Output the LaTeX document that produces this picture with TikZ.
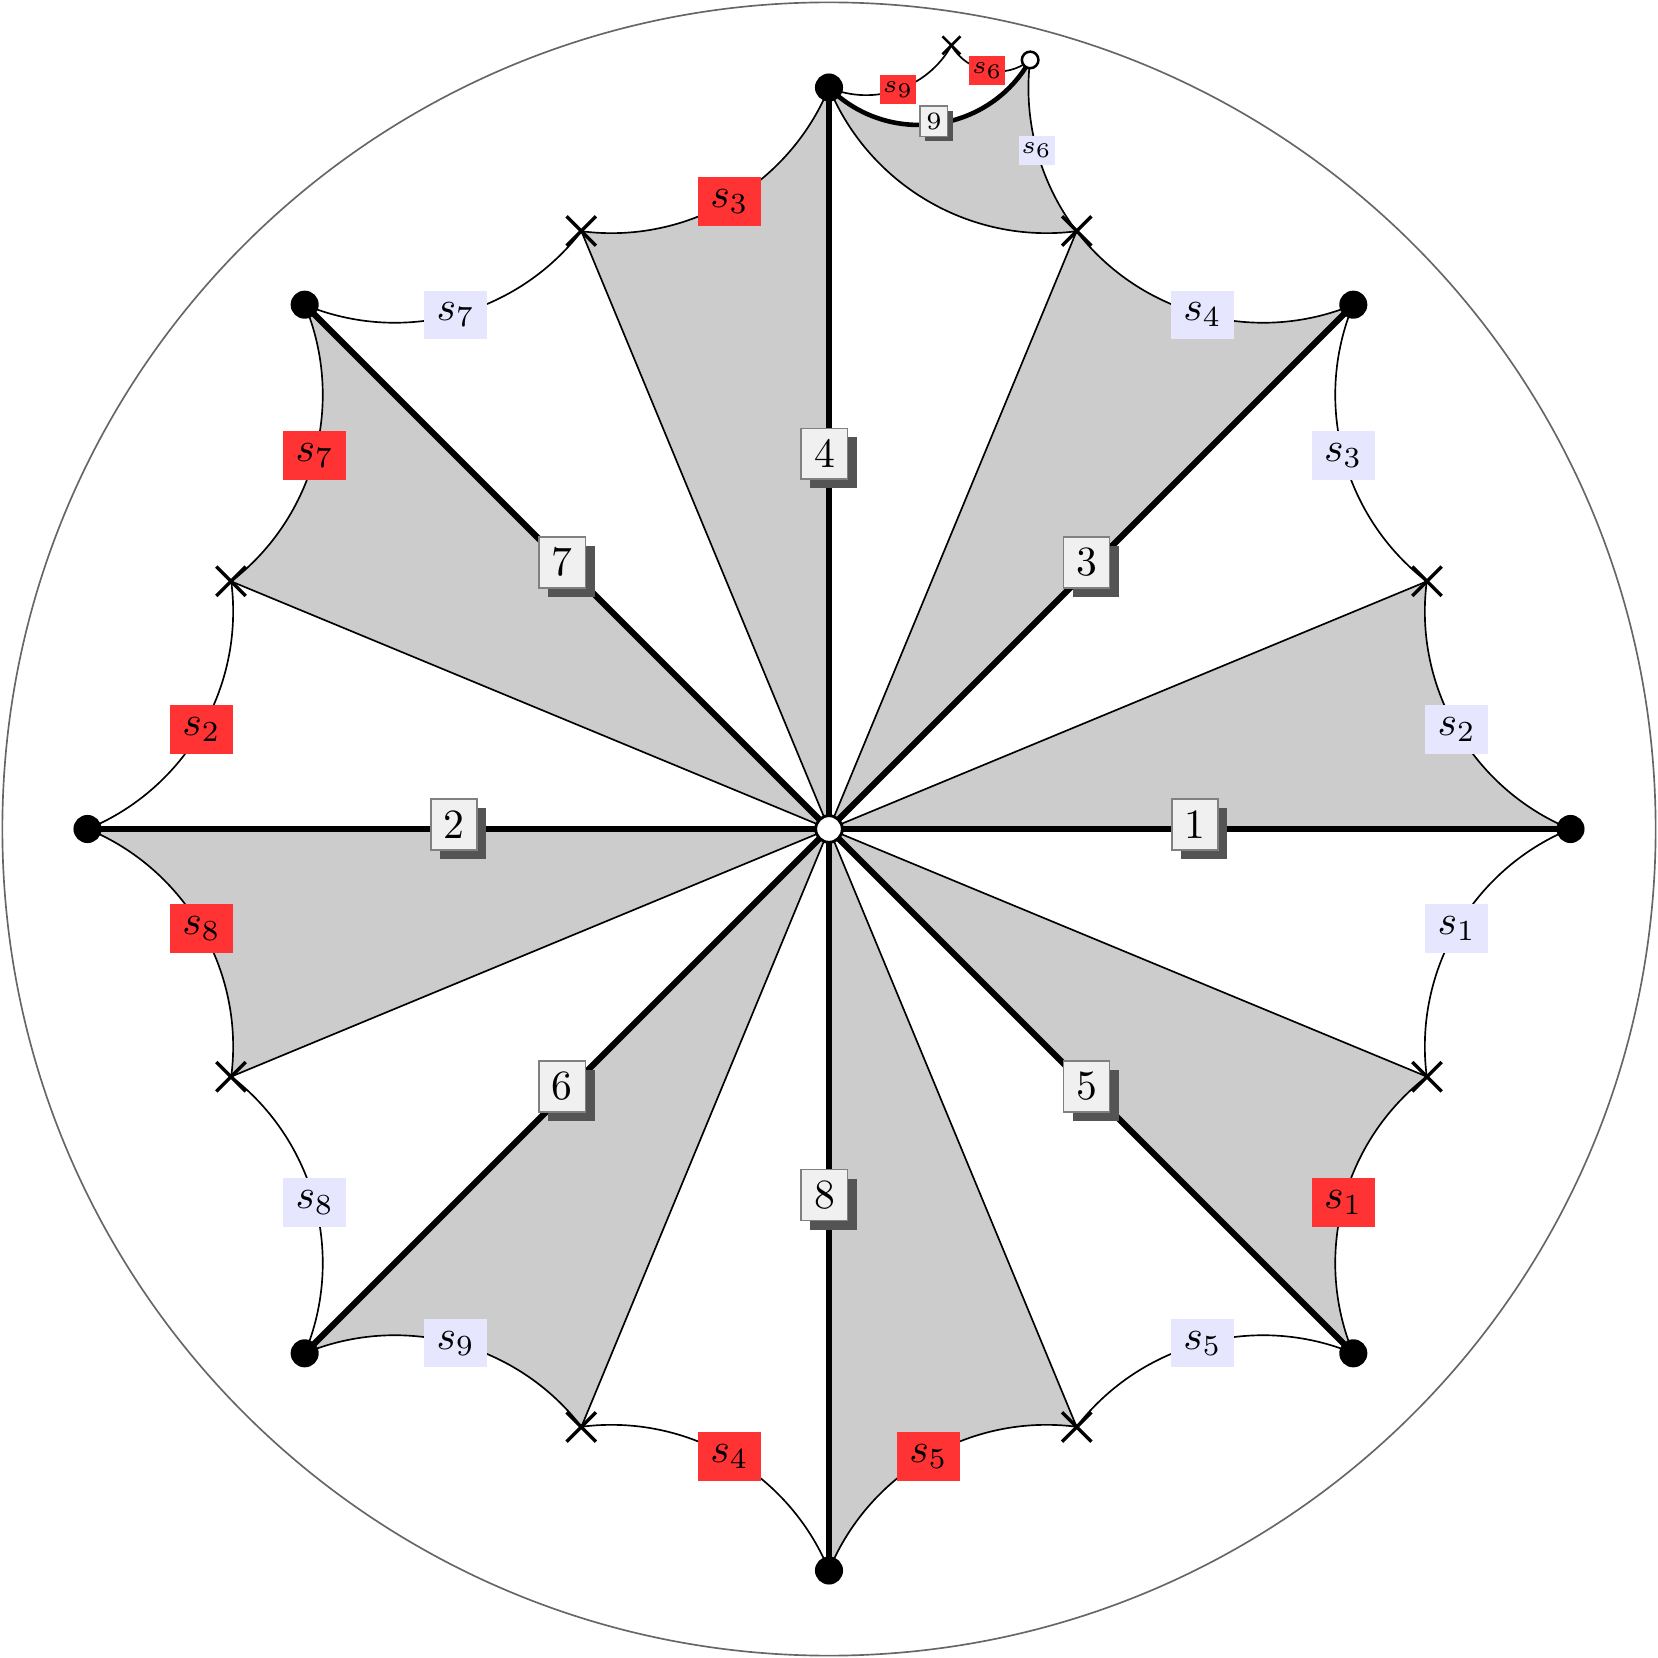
\documentclass[tikz,border=0pt]{standalone}
\usepackage{amsmath,amssymb}
\usepackage{xcolor}
\usepackage{tikz}
\usetikzlibrary{positioning,backgrounds,shadows,shapes.misc}

\definecolor{sred}{RGB}{255,51,51}
\definecolor{sblue}{RGB}{230,230,255}
\definecolor{boxgray}{gray}{0.94}
\definecolor{wedgegray}{gray}{0.8}

\tikzset{
  vertex/.style={circle,fill=black,inner sep=0pt,minimum size=0.237cm},
  hole/.style={circle,draw=black,fill=white,line width=0.7pt,inner sep=0pt,minimum size=0.225cm},
  xmark/.style={cross out,draw=black,line width=0.8pt,inner sep=0pt,minimum size=0.22cm},
  edge/.style={line width=1.45pt},
  side/.style={line width=0.4pt},
  numbase/.style={draw=gray,line width=0.4pt,fill=boxgray,inner sep=0pt},
  numbox/.style={numbase,minimum width=0.39cm,minimum height=0.43cm,xshift=-1.1pt,yshift=1.1pt,
    drop shadow={shadow xshift=2.2pt,shadow yshift=-2.2pt,fill=black!67,opacity=1}},
  numboxsmall/.style={numbase,font=\fontsize{6}{7}\selectfont,minimum width=0.23cm,minimum height=0.255cm,
    xshift=-0.6pt,yshift=0.6pt,
    drop shadow={shadow xshift=1.2pt,shadow yshift=-1.2pt,fill=black!67,opacity=1}},
  redlab/.style={fill=sred,inner sep=0pt,minimum width=0.53cm,minimum height=0.41cm},
  bluelab/.style={fill=sblue,inner sep=0pt,minimum width=0.53cm,minimum height=0.41cm},
  tinylab/.style={font=\fontsize{6}{7}\selectfont,minimum width=0.305cm,minimum height=0.245cm},
}

\begin{document}
\begin{tikzpicture}[scale=6.98]
  \useasboundingbox (-1.00287,-1.00287) rectangle (1.00287,1.00287);
  \draw[line width=0.4pt,black!60] (0,0) circle (1);

  % vertices of the tiling
  \node[hole] (o) at (0,0) {};
  \foreach \k in {0,...,7}{
    \node[vertex] (d\k) at (45*\k:0.897) {};
    \node[xmark] (x\k) at (45*\k+22.5:0.783) {};
  }
  \node[hole,minimum size=0.14cm,line width=0.6pt] (p) at (75.34:0.9617) {};
  \node[xmark,minimum size=0.13cm,line width=0.6pt] (y) at (81.12:0.9596) {};

  \begin{scope}[on background layer]
    % shaded triangles
    \foreach \k [evaluate=\k as \ao using 45*\k+157.5,
                 evaluate=\k as \ai using 45*\k+262.65] in {0,...,7}
      \fill[wedgegray] (o.center) -- (d\k.center)
        to[out=\ao,in=\ai,looseness=0.95] (x\k.center) -- cycle;
    \fill[wedgegray] (d2.center) to[out=315.04,in=240.67,looseness=1.06] (p.center)
      to[out=263.17,in=127.19,looseness=0.88] (x1.center)
      to[out=187.35,in=292.5,looseness=0.95] (d2.center);

    \foreach \k in {0,...,7}
      \draw[side] (o.center) -- (x\k.center);

    % geodesic sides
    \draw[side] (d0.center) to[out=157.5,in=262.65,looseness=0.95] node[bluelab,midway] {$s_2$} (x0.center);
    \draw[side] (d1.center) to[out=247.5,in=142.35,looseness=0.95] node[bluelab,midway] {$s_3$} (x0.center);
    \draw[side] (d1.center) to[out=202.5,in=307.65,looseness=0.95] node[bluelab,midway] {$s_4$} (x1.center);
    \draw[side] (d2.center) to[out=292.5,in=187.35,looseness=0.95] (x1.center);
    \draw[side] (d2.center) to[out=247.5,in=352.65,looseness=0.95] node[redlab,midway] {$s_3$} (x2.center);
    \draw[side] (d3.center) to[out=337.5,in=232.35,looseness=0.95] node[bluelab,midway] {$s_7$} (x2.center);
    \draw[side] (d3.center) to[out=292.5,in=37.65,looseness=0.95] node[redlab,midway] {$s_7$} (x3.center);
    \draw[side] (d4.center) to[out=22.5,in=277.35,looseness=0.95] node[redlab,midway] {$s_2$} (x3.center);
    \draw[side] (d4.center) to[out=337.5,in=82.65,looseness=0.95] node[redlab,midway] {$s_8$} (x4.center);
    \draw[side] (d5.center) to[out=67.5,in=322.35,looseness=0.95] node[bluelab,midway] {$s_8$} (x4.center);
    \draw[side] (d5.center) to[out=22.5,in=127.65,looseness=0.95] node[bluelab,midway] {$s_9$} (x5.center);
    \draw[side] (d6.center) to[out=112.5,in=7.35,looseness=0.95] node[redlab,midway] {$s_4$} (x5.center);
    \draw[side] (d6.center) to[out=67.5,in=172.65,looseness=0.95] node[redlab,midway] {$s_5$} (x6.center);
    \draw[side] (d7.center) to[out=157.5,in=52.35,looseness=0.95] node[bluelab,midway] {$s_5$} (x6.center);
    \draw[side] (d7.center) to[out=112.5,in=217.65,looseness=0.95] node[redlab,midway] {$s_1$} (x7.center);
    \draw[side] (d0.center) to[out=202.5,in=97.35,looseness=0.95] node[bluelab,midway] {$s_1$} (x7.center);

    % small copy at the top
    \draw[side] (d2.center) to[out=337.44,in=240.66,looseness=0.97] node[redlab,tinylab,midway] {$s_9$} (y.center);
    \draw[side] (y.center) to[out=300.81,in=218.17,looseness=1.03] node[redlab,tinylab,midway] {$s_6$} (p.center);
    \draw[side] (p.center) to[out=263.17,in=127.19,looseness=0.88] node[bluelab,tinylab,midway] {$s_6$} (x1.center);
    \draw[line width=1.1pt] (d2.center) to[out=315.04,in=240.67,looseness=1.06] node[numboxsmall,midway] {9} (p.center);

    % paired edges
    \foreach \k/\n in {0/1,1/3,2/4,3/7,4/2,5/6,6/8,7/5}
      \draw[edge] (o.center) -- node[numbox,midway] {\n} (d\k.center);
  \end{scope}
\end{tikzpicture}
\end{document}
